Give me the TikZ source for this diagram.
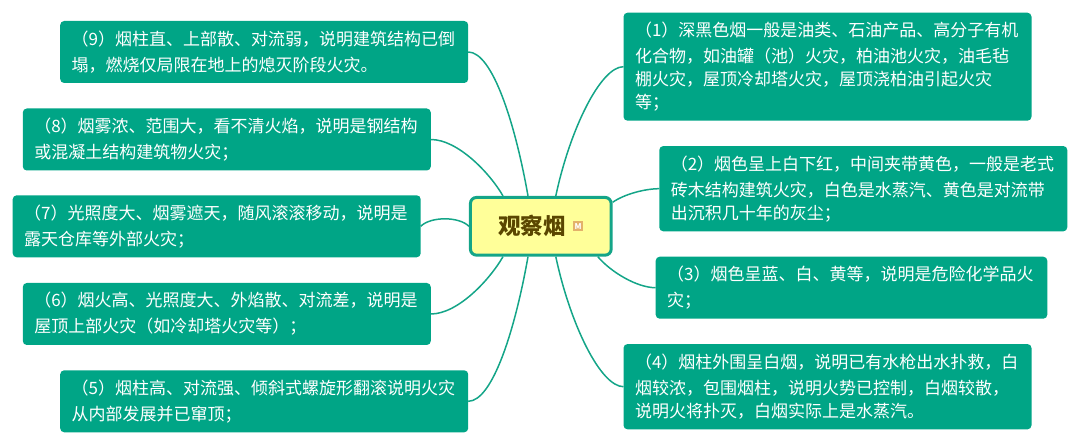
\documentclass[tikz,border=0pt]{standalone}
\usepackage{fontspec}
\setmainfont{Noto Sans CJK SC}
\definecolor{smokegreen}{HTML}{00A586}
\definecolor{linegreen}{HTML}{14A588}
\definecolor{watchyellow}{HTML}{FFFF99}
\definecolor{watchbrown}{HTML}{5A4600}
\definecolor{markorange}{HTML}{E3B26A}
\usetikzlibrary{arrows.meta}

\begin{document}
\begin{tikzpicture}[x=1pt,y=1pt,
    smokebox/.style={rectangle,fill=smokegreen,rounded corners=4pt,text=white,align=left,
        inner xsep=11.5pt,inner ysep=0pt,outer sep=0pt,minimum height=62pt,text width=385pt,
        execute at begin node={\vspace*{3pt}},
        font=\fontsize{17}{23}\selectfont},
    watchbox/.style={rectangle,draw=linegreen,fill=watchyellow,line width=3pt,rounded corners=6pt,
        minimum width=140.7pt,minimum height=57.7pt,text=watchbrown,
        font=\fontsize{22.5}{26}\selectfont\bfseries},
    markbox/.style={rectangle,fill=markorange,text=white,inner sep=0pt,
        minimum width=10.5pt,minimum height=10.5pt,font=\fontsize{8}{8}\selectfont\bfseries},
    longcurve/.style={out looseness=0.4,in looseness=1.2}]
\useasboundingbox (0,0) rectangle (1080,445);

\node [watchbox] (Watch) at (540.8,218.7) {观察烟\hspace{18pt}\null};
\node [markbox] (Mark) at (578.2,218.8) {M};

\begin{scope}[every node/.style={smokebox}]
    \node (SmokeNine) at (264.2,393) {（9）烟柱直、上部散、对流弱，说明建筑结构已倒\\塌，燃烧仅局限在地上的熄灭阶段火灾。};
    \node (SmokeEight) at (226.8,305.5) {（8）烟雾浓、范围大，看不清火焰，说明是钢结构\\或混凝土结构建筑物火灾；};
    \node (SmokeSeven) at (216.7,218.7) {（7）光照度大、烟雾遮天，随风滚滚移动，说明是\\露天仓库等外部火灾；};
    \node (SmokeSix) at (226.8,131) {（6）烟火高、光照度大、外焰散、对流差，说明是\\屋顶上部火灾（如冷却塔火灾等）；};
    \node (SmokeFive) at (264.2,43.7) {（5）烟柱高、对流强、倾斜式螺旋形翻滚说明火灾\\从内部发展并已窜顶；};
    \node [minimum height=108pt] (SmokeOne) at (827.5,378.3) {（1）深黑色烟一般是油类、石油产品、高分子有机\\化合物，如油罐（池）火灾，柏油池火灾，油毛毡\\棚火灾，屋顶冷却塔火灾，屋顶浇柏油引起火灾\\等；};
    \node [minimum height=85.3pt] (SmokeTwo) at (863.3,256.3) {（2）烟色呈上白下红，中间夹带黄色，一般是老式\\砖木结构建筑火灾，白色是水蒸汽、黄色是对流带\\出沉积几十年的灰尘；};
    \node [text width=368.6pt] (SmokeThree) at (851.5,157.3) {（3）烟色呈蓝、白、黄等，说明是危险化学品火\\灾；};
    \node [minimum height=85.3pt] (SmokeFour) at (827.5,58.3) {（4）烟柱外围呈白烟，说明已有水枪出水扑救，白\\烟较浓，包围烟柱，说明火势已控制，白烟较散，\\说明火将扑灭，白烟实际上是水蒸汽。};
    \end{scope}

\begin{scope}[every edge/.style={draw=linegreen,line width=1.5pt},looseness=0.75]
    \path (SmokeNine.east) edge [out=0,in=100,longcurve] ([xshift=-12.8pt]Watch.north);
    \path (SmokeEight.east) edge [out=0,in=120] ([xshift=-37.8pt]Watch.north);
    \path (SmokeSeven.east) edge (Watch.west);
    \path (SmokeSix.east) edge [out=0,in=-120] ([xshift=-37.8pt]Watch.south);
    \path (SmokeFive.east) edge [out=0,in=-100,longcurve] ([xshift=-12.8pt]Watch.south);
    \path (SmokeOne.west) edge [out=180,in=78,longcurve] ([xshift=15pt]Watch.north);
    \path (SmokeTwo.west) edge [out=180,in=35] ([yshift=24pt]Watch.east);
    \path (SmokeThree.west) edge [out=180,in=-50] ([xshift=57pt]Watch.south);
    \path (SmokeFour.west) edge [out=180,in=-78,longcurve] ([xshift=15pt]Watch.south);
    \end{scope}

\end{tikzpicture}
\end{document}
